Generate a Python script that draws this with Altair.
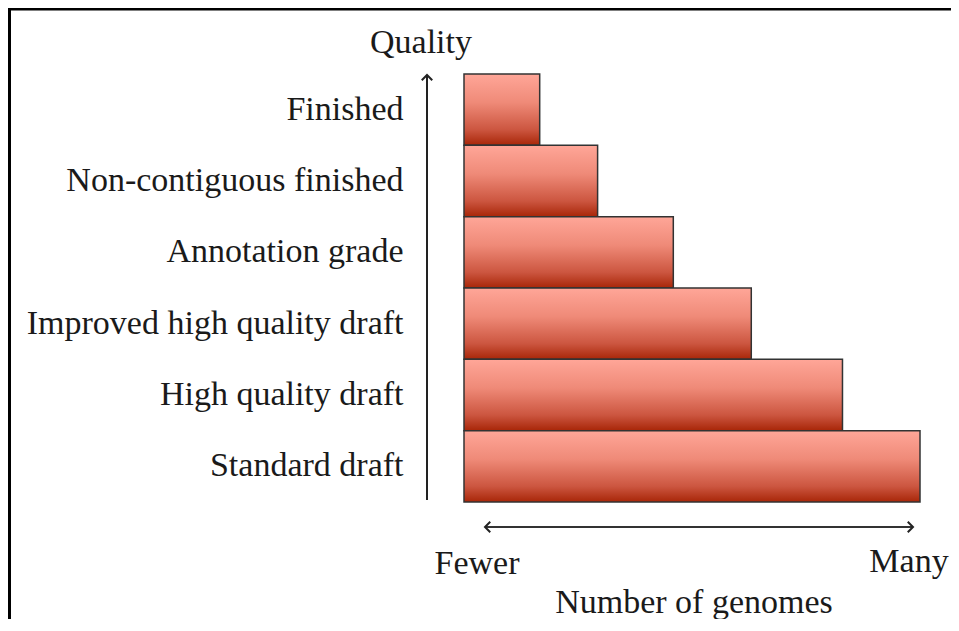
import altair as alt
import pandas as pd

# ---- data ----
categories = [
    "Finished",
    "Non-contiguous finished",
    "Annotation grade",
    "Improved high quality draft",
    "High quality draft",
    "Standard draft",
]
genomes = [16.6, 29.3, 45.9, 63.0, 83.0, 100.0]

y_title = "Quality"
x_title = "Number of genomes"
x_low = "Fewer"
x_high = "Many"

df = pd.DataFrame({"quality": categories, "genomes": genomes})

FONT = "Liberation Serif"
FS = 34
INK = "#1a1a1a"

W, H = 456, 428
PAD = {"left": 456, "top": 66, "right": 31, "bottom": 117}

gradient = alt.LinearGradient(
    gradient="linear",
    stops=[
        alt.GradientStop(color="#ffa698", offset=0),
        alt.GradientStop(color="#ef8a78", offset=0.4),
        alt.GradientStop(color="#cc5640", offset=0.78),
        alt.GradientStop(color="#a82608", offset=1),
    ],
    x1=0, x2=0, y1=0, y2=1,
)

bars = alt.Chart(df).mark_bar(
    color=gradient, stroke="#333333", strokeWidth=1.5
).encode(
    x=alt.X("genomes:Q", scale=alt.Scale(domain=[0, 100], nice=False), axis=None),
    y=alt.Y(
        "quality:N",
        sort=categories,
        scale=alt.Scale(paddingInner=0, paddingOuter=0),
        axis=alt.Axis(
            title=None, domain=False, ticks=False, labelPadding=61,
            labelFont=FONT, labelFontSize=FS, labelColor=INK, labelLimit=800,
        ),
    ),
)

one = alt.Data(values=[{}])

# Arrows
v_line = alt.Chart(one).mark_rule(color="#222", strokeWidth=2).encode(
    x=alt.value(-37), y=alt.value(2), y2=alt.value(426)
)
v_head = alt.Chart(one).mark_point(
    shape="M-1,1L0,0L1,1", filled=False, color="#222", strokeWidth=2, size=110, opacity=1
).encode(x=alt.value(-37), y=alt.value(1))

h_line = alt.Chart(one).mark_rule(color="#333", strokeWidth=2).encode(
    y=alt.value(453), x=alt.value(22), x2=alt.value(448)
)
h_head_l = alt.Chart(one).mark_point(
    shape="M1,-1L0,0L1,1", filled=False, color="#222", strokeWidth=2, size=110, opacity=1
).encode(x=alt.value(21), y=alt.value(453))
h_head_r = alt.Chart(one).mark_point(
    shape="M-1,-1L0,0L-1,1", filled=False, color="#222", strokeWidth=2, size=110, opacity=1
).encode(x=alt.value(449), y=alt.value(453))

def label(txt, x, y):
    return alt.Chart(one).mark_text(
        text=txt, font=FONT, fontSize=FS, color=INK, align="center", baseline="alphabetic"
    ).encode(x=alt.value(x), y=alt.value(y))

t_quality = label(y_title, -43, -21)
t_fewer = label(x_low, 13, 500)
t_many = label(x_high, 445, 498)
t_title = label(x_title, 230, 539)

# Frame (top and left)
frame_left = alt.Chart(one).mark_rule(color="black", strokeWidth=3).encode(
    x=alt.value(-454.5), y=alt.value(-66), y2=alt.value(570)
)
frame_top = alt.Chart(one).mark_rule(color="black", strokeWidth=3).encode(
    y=alt.value(-65), x=alt.value(-456), x2=alt.value(495)
)

chart = alt.layer(
    bars, v_line, v_head, h_line, h_head_l, h_head_r,
    t_quality, t_fewer, t_many, t_title, frame_left, frame_top,
).properties(
    width=W, height=H, padding=PAD, autosize="none", background="white"
).configure_view(stroke=None)

chart.save("out.html", embed_options={"renderer": "svg", "actions": False})
